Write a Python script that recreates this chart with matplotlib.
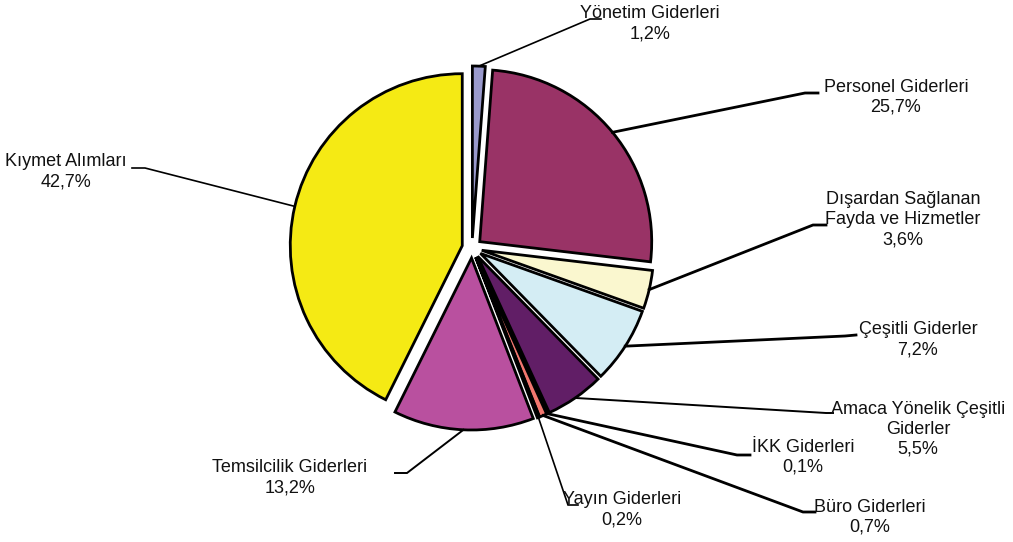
import numpy as np
import matplotlib
matplotlib.use("Agg")
import matplotlib.pyplot as plt

W, H = 1013, 542

labels = ["Yönetim Giderleri", "Personel Giderleri", "Dışardan Sağlanan\nFayda ve Hizmetler",
          "Çeşitli Giderler", "Amaca Yönelik Çeşitli\nGiderler", "İKK Giderleri",
          "Büro Giderleri", "Yayın Giderleri", "Temsilcilik Giderleri", "Kıymet Alımları"]
values = [1.2, 25.7, 3.6, 7.2, 5.5, 0.1, 0.7, 0.2, 13.2, 42.7]
colors = ["#9999CC", "#993366", "#FAF7CF", "#D4EDF4", "#611E66", "#1A1A3A",
          "#F2776F", "#222222", "#B9509F", "#F5EA14"]

# label centre (px, top-left origin), elbow point, line end, line width
label_pos = [(650, 24), (896, 97), (903, 220), (918, 340), (918, 429),
             (803, 457), (870, 517), (622, 510), (290, 478), (66, 172)]
elbows = [(590, 19), (805, 93), (813, 225), (845, 336), (826, 413),
          (737, 455), (803, 512), (568, 505), (407, 473), (145, 168)]
ends = [(601, 19), (818, 93), (826, 225), (856, 335), (833, 413),
        (750, 455), (815, 512), (578, 505), (395, 473), (132, 168)]
lws = [1.2, 2.0, 2.0, 2.0, 1.4, 2.0, 2.0, 1.2, 1.4, 1.2]
line_h = 20

plt.rcParams['font.family'] = ['Liberation Sans', 'DejaVu Sans']

fig = plt.figure(figsize=(W / 100, H / 100), dpi=100)
ax = fig.add_axes([0, 0, 1, 1])

def fy(y):
    return H - y

cx, cy, r = 472, 248, 172
explode = [10] * len(values)   # offset in px (pie does not scale it)
wedges, _ = ax.pie(values, colors=colors, startangle=90, counterclock=False,
                   explode=explode, radius=r, center=(cx, fy(cy)),
                   wedgeprops=dict(edgecolor="black", linewidth=2), frame=True)
ax.set_xlim(0, W)
ax.set_ylim(0, H)
ax.set_aspect("equal")
ax.axis("off")

for i, w in enumerate(wedges):
    mid = np.deg2rad((w.theta1 + w.theta2) / 2)
    wx, wy = w.center
    sx = wx + w.r * np.cos(mid)
    sy = wy + w.r * np.sin(mid)
    ex, ey = elbows[i]
    tx, ty = ends[i]
    ax.plot([sx, ex, tx], [sy, fy(ey), fy(ty)], color="black", lw=lws[i],
            solid_joinstyle="miter", zorder=3)
    lx, ly = label_pos[i]
    lines = labels[i].split("\n") + [("%.1f%%" % values[i]).replace(".", ",")]
    top = ly - line_h * (len(lines) - 1) / 2
    for k, s in enumerate(lines):
        ax.text(lx, fy(top + k * line_h), s, ha="center", va="center",
                fontsize=13, color="#111111")

fig.savefig("out.png", dpi=100)
